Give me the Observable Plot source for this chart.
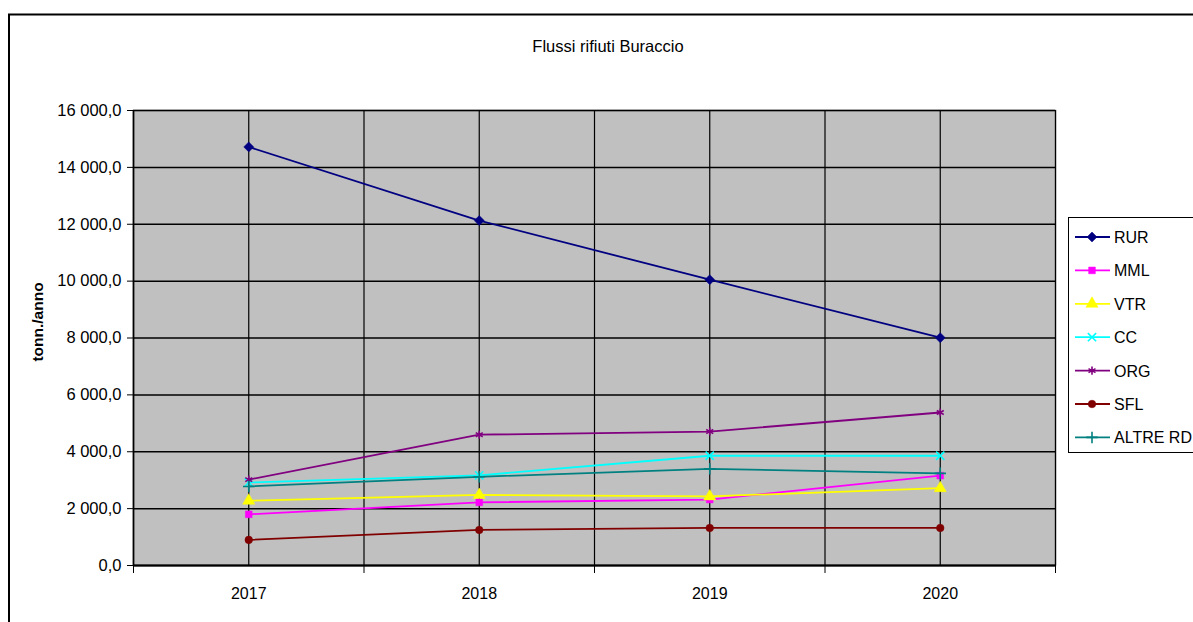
<!DOCTYPE html>
<html>
<head>
<meta charset="utf-8">
<script src="https://cdn.jsdelivr.net/npm/d3@7"></script>
<script src="https://cdn.jsdelivr.net/npm/@observablehq/plot@0.6"></script>
<style>
  html, body { margin: 0; padding: 0; background: #fff; }
  #chart svg { display: block; font-family: "Liberation Sans", Arial, sans-serif; }
</style>
</head>
<body>
<div id="chart"></div>
<script>
const title = "Flussi rifiuti Buraccio";
const yLabel = "tonn./anno";
const years = [2017, 2018, 2019, 2020];
const yTicks = [0, 2000, 4000, 6000, 8000, 10000, 12000, 14000, 16000];
const seriesNames = ["RUR", "MML", "VTR", "CC", "ORG", "SFL", "ALTRE RD"];
const RUR = [14720, 12130, 10050, 8010];
const MML = [1800, 2220, 2320, 3160];
const VTR = [2280, 2480, 2430, 2720];
const CC = [2920, 3170, 3860, 3860];
const ORG = [3020, 4600, 4710, 5380];
const SFL = [900, 1250, 1320, 1320];
const ALTRE_RD = [2780, 3120, 3400, 3240];

const seriesValues = [RUR, MML, VTR, CC, ORG, SFL, ALTRE_RD];
const colors = ["#000080", "#ff00ff", "#ffff00", "#00ffff", "#800080", "#800000", "#008080"];
const symbols = ["diamond2", "square", "triangle", "times", "asterisk", "circle", "plus"];
const d3Symbols = {diamond2: d3.symbolDiamond2, square: d3.symbolSquare, triangle: d3.symbolTriangle,
  times: d3.symbolTimes, asterisk: d3.symbolAsterisk, circle: d3.symbolCircle, plus: d3.symbolPlus};
const filled = [true, true, true, false, false, true, false];
const sizes = [4.5, 3.8, 4.5, 3.8, 3.8, 3.8, 3.8];

const data = [];
seriesNames.forEach((s, i) => years.forEach((yr, j) => data.push({series: s, year: yr, value: seriesValues[i][j]})));

const locale = d3.formatLocale({decimal: ",", thousands: " ", grouping: [3]});
const fmt = locale.format(",.1f");

const W = 1193, H = 622;
const x0 = 133, x1 = 1055, yTop = 110, yBot = 565;
const halfs = [];
for (let v = years[0] - 0.5; v <= years[years.length - 1] + 0.5; v += 0.5) halfs.push(v);
const bounds = halfs.filter(v => v % 1 !== 0);

const marks = [
  Plot.frame({fill: "#c0c0c0", stroke: "#808080", strokeWidth: 1.5}),
  Plot.ruleY(yTicks, {stroke: "#000", strokeWidth: 1.5}),
  Plot.ruleX(halfs, {stroke: "#000", strokeWidth: 1.2}),
  Plot.axisY({ticks: yTicks, tickFormat: fmt, tickSize: 6, tickPadding: 6, fontSize: 16.5, label: null, stroke: "#000"}),
  Plot.axisX({ticks: bounds, tickFormat: () => "", tickSize: 8, label: null, stroke: "#000"}),
  Plot.axisX({ticks: years, tickFormat: d => String(d), tickSize: 0, tickPadding: 22, fontSize: 16, label: null}),
  Plot.ruleX([years[0] - 0.5], {stroke: "#000", strokeWidth: 1.5}),
  Plot.ruleY([0], {stroke: "#000", strokeWidth: 2})
];
seriesNames.forEach((s, i) => {
  const d = data.filter(r => r.series === s);
  marks.push(Plot.line(d, {x: "year", y: "value", stroke: colors[i], strokeWidth: 1.8}));
  marks.push(Plot.dot(d, {x: "year", y: "value", symbol: () => symbols[i], r: sizes[i],
    fill: filled[i] ? colors[i] : "none", stroke: colors[i], strokeWidth: filled[i] ? 0.5 : 1.6}));
});

const chart = Plot.plot({
  width: W, height: H,
  marginLeft: x0, marginRight: W - x1, marginTop: yTop, marginBottom: H - yBot,
  x: {type: "linear", domain: [years[0] - 0.5, years[years.length - 1] + 0.5]},
  y: {domain: [yTicks[0], yTicks[yTicks.length - 1]]},
  style: {fontFamily: "Liberation Sans, Arial, sans-serif", fontSize: "16px", color: "#000", background: "#fff"},
  marks
});
document.getElementById("chart").appendChild(chart);

const svg = d3.select(chart);
// outer border
svg.append("path").attr("d", `M9,${H + 2} V14.5 H${W + 2}`).attr("fill", "none").attr("stroke", "#000").attr("stroke-width", 2);
// title
svg.append("text").attr("x", 608).attr("y", 52).attr("text-anchor", "middle").attr("font-size", 16.5).attr("fill", "#000").text(title);
// y label
svg.append("text").attr("transform", "translate(43,322) rotate(-90)").attr("text-anchor", "middle")
  .attr("font-size", 15.5).attr("font-weight", "bold").attr("fill", "#000").text(yLabel);
// legend
const lg = svg.append("g").attr("text-anchor", "start");
lg.append("rect").attr("x", 1068.5).attr("y", 217.5).attr("width", 140).attr("height", 235).attr("fill", "#fff").attr("stroke", "#000").attr("stroke-width", 1);
seriesNames.forEach((s, i) => {
  const cy = 237 + i * 33.4;
  lg.append("line").attr("x1", 1075).attr("x2", 1110).attr("y1", cy).attr("y2", cy).attr("stroke", colors[i]).attr("stroke-width", 1.8);
  const sym = d3.symbol(d3Symbols[symbols[i]], Math.PI * sizes[i] * sizes[i]);
  lg.append("path").attr("d", sym()).attr("transform", `translate(1092,${cy})`)
    .attr("fill", filled[i] ? colors[i] : "none").attr("stroke", colors[i]).attr("stroke-width", filled[i] ? 0.5 : 1.6);
  lg.append("text").attr("x", 1114).attr("y", cy + 6).attr("text-anchor", "start").attr("font-size", 16).attr("fill", "#000").text(s);
});
</script>
</body>
</html>
